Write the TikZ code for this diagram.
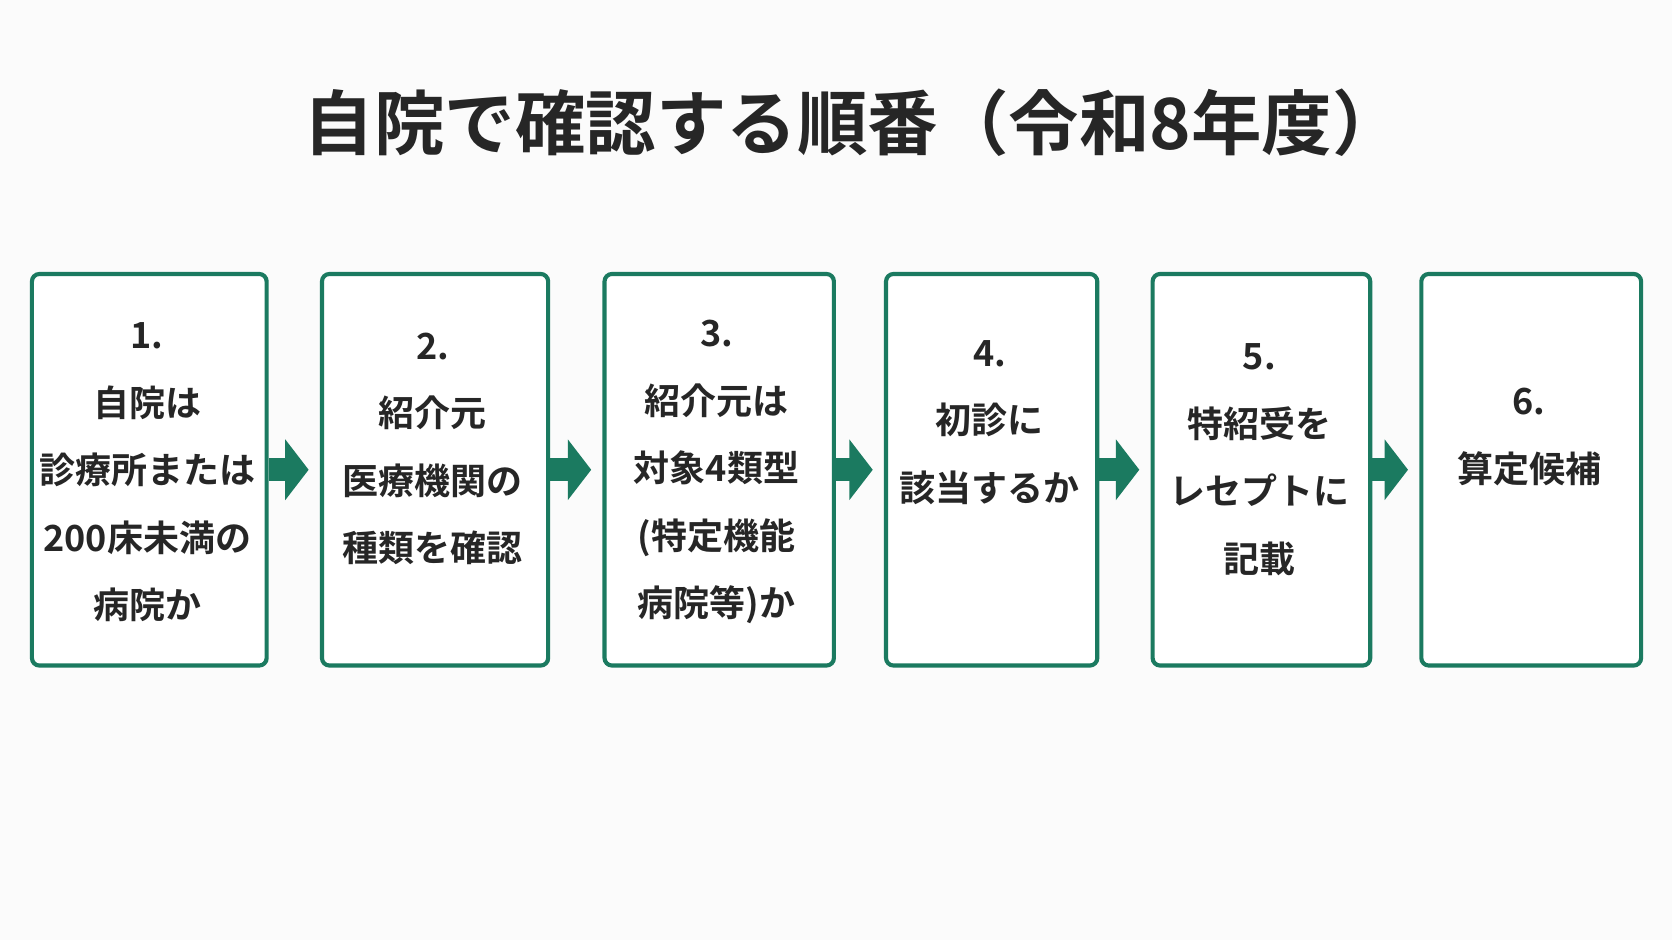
\documentclass[tikz,border=0pt]{standalone}
\usepackage{fontspec}
\setmainfont{Noto Sans CJK JP}[BoldFont={Noto Sans CJK JP Bold}]
\usetikzlibrary{arrows.meta}
\definecolor{grn}{HTML}{1B7A60}
\begin{document}
\begin{tikzpicture}[x=0.01cm,y=-0.01cm,
 box/.style={draw=grn,line width=1.1pt,rounded corners=2pt,fill=white,inner sep=0pt},
 txt/.style={font=\bfseries\fontsize{9.6pt}{18pt}\selectfont,align=center,text=black!85},
 arr/.style={draw=grn,line width=0.22cm,-{Triangle[length=0.22cm,width=0.56cm]},shorten >=3pt}]
\useasboundingbox (0,0) rectangle (1568,882);
\fill[white!97!gray] (0,0) rectangle (1568,882);
\node[font=\bfseries\fontsize{18.8pt}{24pt}\selectfont,text=black!85] (title) at (800,115) {自院で確認する順番（令和8年度）};
\node[box,minimum width=2.20cm,minimum height=3.67cm,anchor=north west] (n1) at (28,255) {};
\node[box,minimum width=2.12cm,minimum height=3.67cm,anchor=north west] (n2) at (300,255) {};
\node[box,minimum width=2.15cm,minimum height=3.67cm,anchor=north west] (n3) at (565,255) {};
\node[box,minimum width=1.98cm,minimum height=3.67cm,anchor=north west] (n4) at (829,255) {};
\node[box,minimum width=2.04cm,minimum height=3.67cm,anchor=north west] (n5) at (1079,255) {};
\node[box,minimum width=2.06cm,minimum height=3.67cm,anchor=north west] (n6) at (1331,255) {};
\node[txt] (t1) at (138,443) {1.\\自院は\\診療所または\\200床未満の\\病院か};
\node[txt] (t2) at (406,421) {2.\\紹介元\\医療機関の\\種類を確認};
\node[txt] (t3) at (672,443) {3.\\紹介元は\\対象4類型\\(特定機能\\病院等)か};
\node[txt] (t4) at (928,396) {4.\\初診に\\該当するか};
\node[txt] (t5) at (1181,431) {5.\\特紹受を\\レセプトに\\記載};
\node[txt] (t6) at (1434,410) {6.\\算定候補};
\foreach \a/\b in {n1/n2,n2/n3,n3/n4,n4/n5,n5/n6}
  \draw[arr] (\a.east) -- (\b.west);
\end{tikzpicture}
\end{document}
